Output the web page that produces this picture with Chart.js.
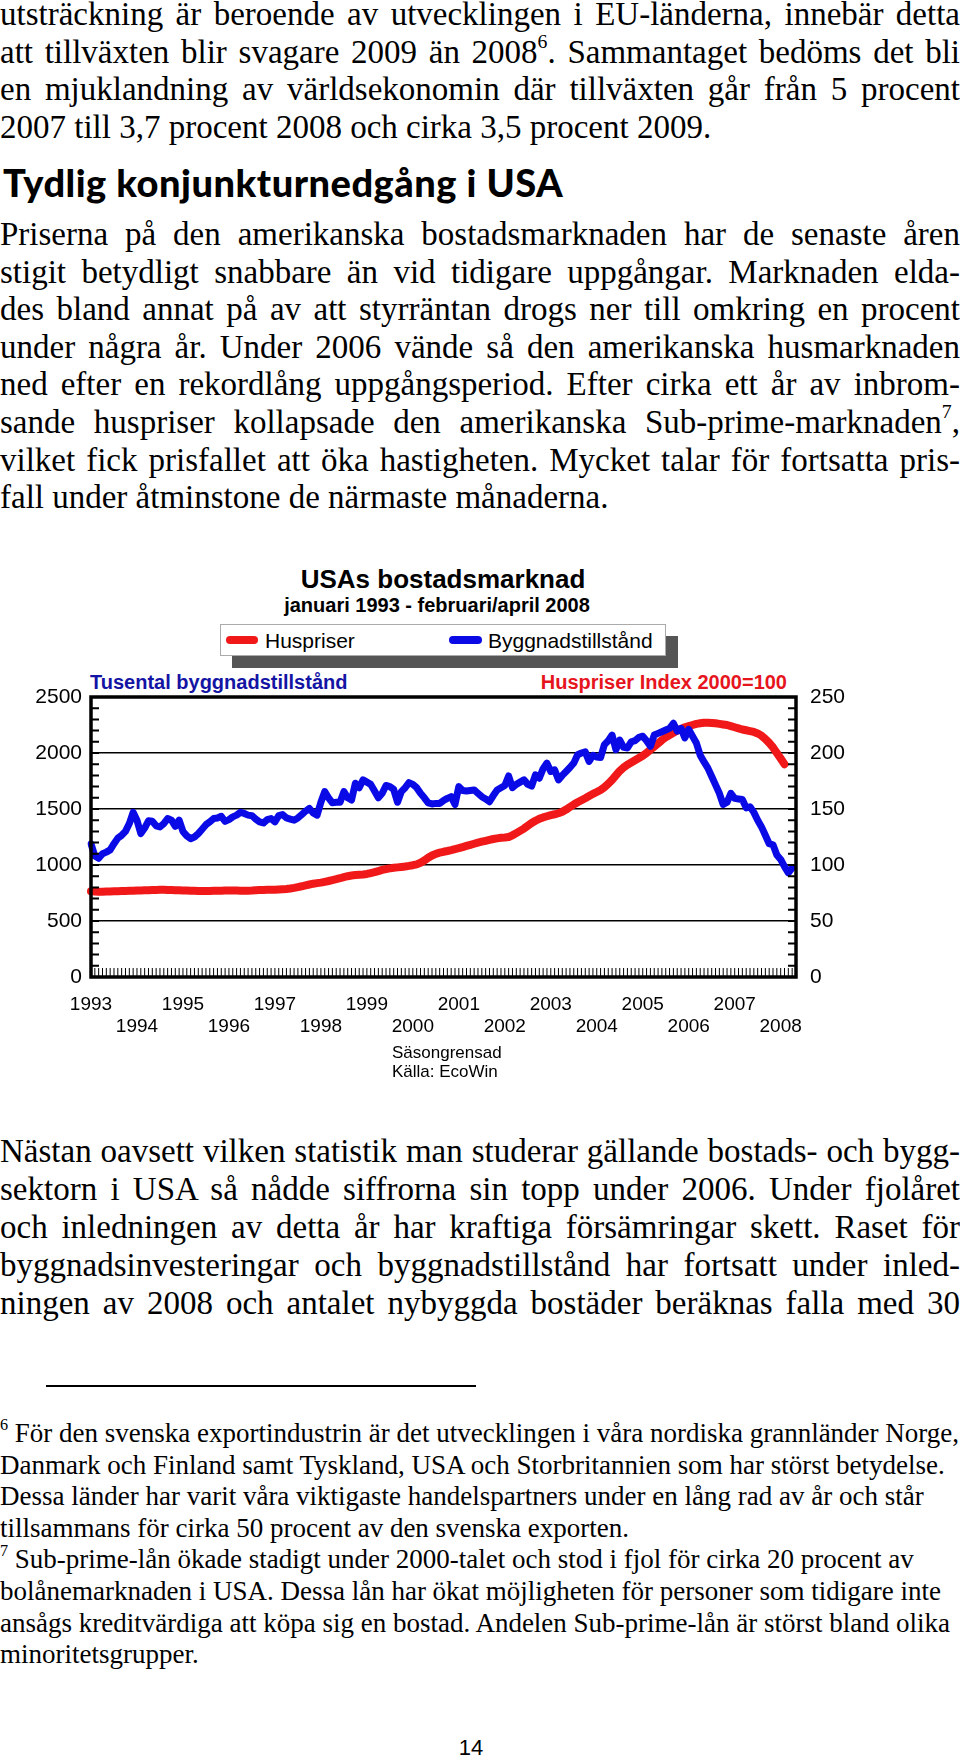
<!DOCTYPE html>
<html>
<head>
<meta charset="utf-8">
<script src="https://cdn.jsdelivr.net/npm/chart.js@4.4.0/dist/chart.umd.min.js"></script>
<style>
  html, body { margin: 0; padding: 0; background: #fff; }
  body { width: 960px; height: 1759px; position: relative; overflow: hidden;
         font-family: "Liberation Serif", "Times New Roman", serif; color: #000; }
  .p { position: absolute; left: 0; width: 960px; font-size: 33px; line-height: 37.6px; }
  .j { text-align: justify; text-align-last: justify; }
  .l { white-space: nowrap; }
  sup { font-size: 0.6em; line-height: 0; vertical-align: 0.75em; }
  h2 { position: absolute; left: 3px; top: 160px; margin: 0; font-family: Lato, sans-serif;
       font-weight: 900; font-size: 38px; line-height: 44px; letter-spacing: 0.5px; white-space: nowrap; }
  .fn { position: absolute; left: 0; width: 960px; font-size: 27px; line-height: 31.6px; }
  .fn div { white-space: nowrap; }
  .sans { font-family: "Liberation Sans", Arial, sans-serif; position: absolute; white-space: nowrap; }
  #wrap { position: absolute; left: 0; top: 560px; width: 960px; height: 530px; }
</style>
</head>
<body>

<div class="p" style="top:-4px">
  <div class="j">utsträckning är beroende av utvecklingen i EU-länderna, innebär detta</div>
  <div class="j">att tillväxten blir svagare 2009 än 2008<sup>6</sup>. Sammantaget bedöms det bli</div>
  <div class="j">en mjuklandning av världsekonomin där tillväxten går från 5 procent</div>
  <div class="l">2007 till 3,7 procent 2008 och cirka 3,5 procent 2009.</div>
</div>

<h2>Tydlig konjunkturnedgång i USA</h2>

<div class="p" style="top:216px">
  <div class="j">Priserna på den amerikanska bostadsmarknaden har de senaste åren</div>
  <div class="j">stigit betydligt snabbare än vid tidigare uppgångar. Marknaden elda-</div>
  <div class="j">des bland annat på av att styrräntan drogs ner till omkring en procent</div>
  <div class="j">under några år. Under 2006 vände så den amerikanska husmarknaden</div>
  <div class="j">ned efter en rekordlång uppgångsperiod. Efter cirka ett år av inbrom-</div>
  <div class="j">sande huspriser kollapsade den amerikanska Sub-prime-marknaden<sup>7</sup>,</div>
  <div class="j">vilket fick prisfallet att öka hastigheten. Mycket talar för fortsatta pris-</div>
  <div class="l">fall under åtminstone de närmaste månaderna.</div>
</div>

<!-- chart texts -->
<div class="sans" style="left:243px;width:400px;text-align:center;top:564px;font-size:26px;line-height:30px;font-weight:bold">USAs bostadsmarknad</div>
<div class="sans" style="left:237px;width:400px;text-align:center;top:593px;font-size:20px;line-height:24px;font-weight:bold">januari 1993 - februari/april 2008</div>

<div style="position:absolute;left:220px;top:624px;width:444px;height:30px;background:#fff;border:1px solid #aaa;box-shadow:12px 12px 0 #555"></div>
<div style="position:absolute;left:226px;top:636px;width:32px;height:8px;border-radius:4px;background:#f01818"></div>
<div class="sans" style="left:265px;top:628px;font-size:21px;line-height:26px">Huspriser</div>
<div style="position:absolute;left:449px;top:636px;width:33px;height:8px;border-radius:4px;background:#0a0ae6"></div>
<div class="sans" style="left:488px;top:628px;font-size:21px;line-height:26px">Byggnadstillstånd</div>

<div class="sans" style="left:90px;top:670px;font-size:20px;line-height:24px;font-weight:bold;color:#1414a4">Tusental byggnadstillstånd</div>
<div class="sans" style="left:487px;width:300px;text-align:right;top:670px;font-size:20px;line-height:24px;font-weight:bold;color:#e6141c">Huspriser Index 2000=100</div>

<div id="wrap"><canvas id="c" width="960" height="530"></canvas></div>

<div class="sans" style="left:392px;top:1043px;font-size:17px;line-height:19px">Säsongrensad<br>Källa: EcoWin</div>

<div class="p" style="top:1132px;line-height:38px">
  <div class="j">Nästan oavsett vilken statistik man studerar gällande bostads- och bygg-</div>
  <div class="j">sektorn i USA så nådde siffrorna sin topp under 2006. Under fjolåret</div>
  <div class="j">och inledningen av detta år har kraftiga försämringar skett. Raset för</div>
  <div class="j">byggnadsinvesteringar och byggnadstillstånd har fortsatt under inled-</div>
  <div class="j">ningen av 2008 och antalet nybyggda bostäder beräknas falla med 30</div>
</div>

<div style="position:absolute;left:46px;top:1385px;width:430px;height:2px;background:#000"></div>

<div class="fn" style="top:1418px">
  <div><sup>6</sup> För den svenska exportindustrin är det utvecklingen i våra nordiska grannländer Norge,</div>
  <div>Danmark och Finland samt Tyskland, USA och Storbritannien som har störst betydelse.</div>
  <div>Dessa länder har varit våra viktigaste handelspartners under en lång rad av år och står</div>
  <div>tillsammans för cirka 50 procent av den svenska exporten.</div>
  <div><sup>7</sup> Sub-prime-lån ökade stadigt under 2000-talet och stod i fjol för cirka 20 procent av</div>
  <div>bolånemarknaden i USA. Dessa lån har ökat möjligheten för personer som tidigare inte</div>
  <div>ansågs kreditvärdiga att köpa sig en bostad. Andelen Sub-prime-lån är störst bland olika</div>
  <div>minoritetsgrupper.</div>
</div>

<div class="sans" style="left:421px;width:100px;text-align:center;top:1735px;font-size:22px;line-height:26px">14</div>

<script>
// months Jan 1993 .. May 2008
const months = [];
for (let y = 1993; y <= 2008; y++) {
  for (let m = 1; m <= 12; m++) {
    if (y < 2008 || m <= 5) months.push(y + '-' + String(m).padStart(2, '0'));
  }
}

// building permits, thousands (left axis), Jan 1993 - Apr 2008
const permits = [
  1190, 1080, 1060, 1100, 1115, 1135, 1190, 1240, 1265, 1300, 1370, 1470, // 1993
  1400, 1280, 1330, 1395, 1390, 1350, 1340, 1370, 1415, 1400, 1345, 1400, // 1994
  1300, 1260, 1235, 1250, 1280, 1320, 1360, 1385, 1415, 1420, 1435, 1390, // 1995
  1405, 1430, 1445, 1470, 1460, 1445, 1440, 1410, 1385, 1375, 1405, 1415, // 1996
  1385, 1440, 1450, 1420, 1410, 1400, 1420, 1450, 1480, 1505, 1465, 1445, // 1997
  1560, 1655, 1600, 1555, 1560, 1560, 1655, 1600, 1580, 1730, 1690, 1760, // 1998
  1740, 1720, 1660, 1600, 1640, 1710, 1700, 1675, 1560, 1655, 1690, 1735, // 1999
  1720, 1690, 1640, 1600, 1555, 1545, 1550, 1550, 1575, 1595, 1610, 1540, // 2000
  1700, 1665, 1660, 1665, 1670, 1640, 1610, 1590, 1565, 1620, 1670, 1690, // 2001
  1710, 1795, 1690, 1720, 1740, 1760, 1720, 1705, 1805, 1775, 1860, 1910, // 2002
  1835, 1850, 1760, 1800, 1835, 1870, 1910, 1985, 2000, 2010, 1925, 1980, // 2003
  1965, 1960, 2075, 2110, 2160, 2030, 2115, 2050, 2045, 2100, 2110, 2140, // 2004
  2150, 2110, 2060, 2160, 2175, 2190, 2205, 2220, 2265, 2195, 2220, 2135, // 2005
  2210, 2150, 2090, 1980, 1920, 1865, 1790, 1715, 1640, 1540, 1560, 1640, // 2006
  1595, 1590, 1585, 1510, 1520, 1470, 1400, 1340, 1265, 1190, 1180, 1090, // 2007
  1050, 985, 930, 975                                                      // 2008
];

// house price index 2000=100 (right axis), Jan 1993 - Feb 2008
const housePrices = [
  76.5, 76.3, 76.2, 76.2, 76.3, 76.4, 76.5, 76.6, 76.7, 76.8, 76.9, 77.0,
  77.2, 77.3, 77.4, 77.5, 77.6, 77.7, 77.8, 77.8, 77.7, 77.6, 77.5, 77.4,
  77.3, 77.2, 77.0, 76.9, 76.8, 76.7, 76.7, 76.8, 76.9, 77.0, 77.1, 77.2,
  77.3, 77.3, 77.2, 77.1, 77.0, 77.1, 77.2, 77.4, 77.6, 77.7, 77.8, 77.9,
  78.0, 78.2, 78.4, 78.6, 79.0, 79.6, 80.3, 81.0, 81.8, 82.6, 83.3, 83.8,
  84.3, 85.0, 85.7, 86.5, 87.3, 88.2, 89.2, 90.0, 90.6, 91.0, 91.3, 91.6,
  92.0, 92.8, 93.6, 94.6, 95.6, 96.4, 97.0, 97.5, 97.9, 98.3, 98.7, 99.2,
  99.8, 100.6, 102.0, 104.0, 106.5, 108.5, 110.0, 111.0, 111.8, 112.5, 113.3, 114.2,
  115.0, 116.0, 117.0, 118.0, 119.0, 120.0, 120.8, 121.6, 122.4, 123.2, 123.8, 124.3,
  124.6, 125.0, 126.5, 128.5, 130.5, 132.5, 135.0, 137.5, 139.5, 141.2, 142.5, 143.5,
  144.5, 145.3, 146.2, 147.5, 149.5, 151.8, 154.0, 156.0, 157.8, 159.6, 161.5, 163.5,
  165.2, 167.0, 169.5, 172.5, 176.0, 180.0, 184.0, 187.0, 189.5, 191.5, 193.5, 195.5,
  197.5, 200.0, 203.0, 205.7, 208.5, 211.5, 214.0, 216.0, 218.0, 220.0, 221.5, 223.0,
  224.0, 225.0, 226.0, 226.5, 227.0, 227.0, 226.8, 226.5, 226.0, 225.5, 225.0, 224.0,
  223.0, 222.0, 221.0, 220.3, 219.6, 218.8, 217.5, 215.5, 212.5, 209.0, 205.0, 200.0,
  195.0, 190.0
];

// frame + inward minor ticks
const frameTicks = {
  id: 'frameTicks',
  afterDraw(chart) {
    const { ctx, chartArea: a, scales } = chart;
    ctx.save();
    ctx.strokeStyle = '#000';
    ctx.lineWidth = 2;
    for (let v = 100; v < 2500; v += 100) {
      const y = scales.y.getPixelForValue(v);
      ctx.beginPath();
      ctx.moveTo(a.left, y); ctx.lineTo(a.left + 8, y);
      ctx.moveTo(a.right, y); ctx.lineTo(a.right - 8, y);
      ctx.stroke();
    }
    ctx.lineWidth = 1;
    for (let i = 0; i < months.length; i++) {
      const x = scales.x.getPixelForValue(i);
      ctx.beginPath();
      ctx.moveTo(x, a.bottom); ctx.lineTo(x, a.bottom - 9);
      ctx.stroke();
    }
    ctx.lineWidth = 3.5;
    ctx.strokeRect(a.left, a.top, a.right - a.left, a.bottom - a.top);
    ctx.restore();
  }
};

const labelFont = { family: '"Liberation Sans", Arial, sans-serif', size: 21 };

new Chart(document.getElementById('c'), {
  type: 'line',
  data: {
    labels: months,
    datasets: [{
      label: 'Huspriser',
      data: housePrices,
      yAxisID: 'y1',
      borderColor: '#f01818',
      borderWidth: 8,
      order: 1
    }, {
      label: 'Byggnadstillstånd',
      data: permits,
      yAxisID: 'y',
      borderColor: '#0a0ae6',
      borderWidth: 7,
      order: 0
    }]
  },
  options: {
    responsive: false,
    animation: false,
    devicePixelRatio: 1,
    layout: { padding: { top: 137, left: 0, right: 0, bottom: 0 } },
    elements: {
      point: { radius: 0 },
      line: { tension: 0, borderJoinStyle: 'round', borderCapStyle: 'round' }
    },
    plugins: { legend: { display: false }, tooltip: { enabled: false }, title: { display: false } },
    scales: {
      x: {
        grid: { display: false, drawTicks: false },
        border: { display: false },
        afterFit: s => { s.height = 113; },
        ticks: {
          autoSkip: false, maxRotation: 0, minRotation: 0, padding: 17, color: '#000',
          font: { family: '"Liberation Sans", Arial, sans-serif', size: 19, lineHeight: 1.16 },
          callback: (v, i) => {
            const [yr, mo] = months[i].split('-');
            if (mo !== '01') return null;
            return (+yr % 2) ? [yr, ''] : ['', yr];
          }
        }
      },
      y: {
        position: 'left', min: 0, max: 2500,
        afterFit: s => { s.width = 91; },
        grid: {
          drawTicks: false, lineWidth: 1.5,
          color: c => (c.tick.value === 0 || c.tick.value === 2500) ? 'rgba(0,0,0,0)' : '#000'
        },
        border: { display: false },
        ticks: { stepSize: 500, padding: 9, color: '#000', font: labelFont, callback: v => String(v) }
      },
      y1: {
        position: 'right', min: 0, max: 250,
        afterFit: s => { s.width = 164; },
        grid: { drawOnChartArea: false, drawTicks: false },
        border: { display: false },
        ticks: { stepSize: 50, padding: 14, color: '#000', font: labelFont, callback: v => String(v) }
      }
    }
  },
  plugins: [frameTicks]
});
</script>
</body>
</html>
